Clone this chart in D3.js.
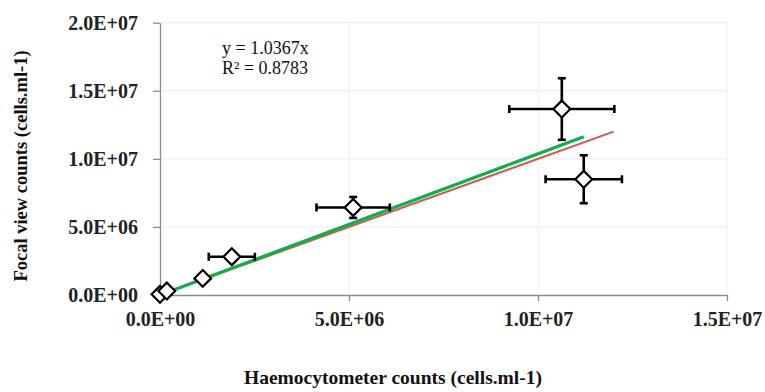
<!DOCTYPE html>
<html>
<head>
<meta charset="utf-8">
<script src="https://cdn.jsdelivr.net/npm/d3@7"></script>
<style>
  html, body { margin: 0; padding: 0; background: #fff; }
  svg { display: block; }
</style>
</head>
<body>
<svg id="chart" width="765" height="392"></svg>
<script>
// ---- data ----
const haemocytometer = [0.0e6, 0.18e6, 1.13e6, 1.90e6, 5.11e6, 10.63e6, 11.21e6];
const focalView      = [0.05e6, 0.29e6, 1.22e6, 2.81e6, 6.43e6, 13.66e6, 8.50e6];
const xError         = [0, 0, 0, 0.61e6, 0.97e6, 1.39e6, 1.01e6];
const yError         = [0, 0, 0, 0, 0.77e6, 2.26e6, 1.76e6];
const xTicks = [0, 5e6, 1e7, 1.5e7];
const yTicks = [0, 5e6, 1e7, 1.5e7, 2e7];
const xTickLabels = ["0.0E+00", "5.0E+06", "1.0E+07", "1.5E+07"];
const yTickLabels = ["0.0E+00", "5.0E+06", "1.0E+07", "1.5E+07", "2.0E+07"];
const trendSlope = 1.0367;
const rSquared = 0.8783;
const identityEnd = 12e6;
const xTitle = "Haemocytometer counts (cells.ml-1)";
const yTitle = "Focal view counts (cells.ml-1)";

// ---- layout ----
const svg = d3.select("#chart");
const mLeft = 160, mRight = 727, mTop = 22.7, mBottom = 295;
const x = d3.scaleLinear().domain([0, 1.5e7]).range([mLeft, mRight]);
const y = d3.scaleLinear().domain([0, 2e7]).range([mBottom, mTop]);
const font = "'Liberation Serif', 'Times New Roman', serif";
const axisColor = "#8c8c8c";
const gridColor = "#ebebeb";

// gridlines
svg.append("g").selectAll("line").data(yTicks.slice(1)).join("line")
  .attr("x1", mLeft).attr("x2", mRight)
  .attr("y1", d => y(d)).attr("y2", d => y(d))
  .attr("stroke", gridColor).attr("stroke-width", 1);
svg.append("g").selectAll("line").data(xTicks.slice(1)).join("line")
  .attr("x1", d => x(d)).attr("x2", d => x(d))
  .attr("y1", mTop).attr("y2", mBottom)
  .attr("stroke", gridColor).attr("stroke-width", 1);

// axes
const xAxis = d3.axisBottom(x).tickValues(xTicks)
  .tickFormat((d, i) => xTickLabels[i]).tickSize(6).tickPadding(11).tickSizeOuter(0);
const yAxis = d3.axisLeft(y).tickValues(yTicks)
  .tickFormat((d, i) => yTickLabels[i]).tickSize(7).tickPadding(15).tickSizeOuter(0);

const gx = svg.append("g").attr("transform", `translate(0,${mBottom})`).call(xAxis);
const gy = svg.append("g").attr("transform", `translate(${mLeft},0)`).call(yAxis);
[gx, gy].forEach(g => {
  g.select(".domain").attr("stroke", axisColor).attr("stroke-width", 1.3);
  g.selectAll(".tick line").attr("stroke", axisColor).attr("stroke-width", 1.3);
  g.selectAll(".tick text").attr("fill", "#222").attr("font-family", font)
    .attr("font-size", 20).attr("font-weight", "bold");
});

// reference line y = x (red) and trend line (green)
svg.append("line")
  .attr("x1", x(0)).attr("y1", y(0))
  .attr("x2", x(identityEnd)).attr("y2", y(identityEnd))
  .attr("stroke", "#cc5a55").attr("stroke-width", 2);
const xMax = d3.max(haemocytometer);
svg.append("line")
  .attr("x1", x(0)).attr("y1", y(0))
  .attr("x2", x(xMax)).attr("y2", y(trendSlope * xMax))
  .attr("stroke", "#14ad4c").attr("stroke-width", 3.2);

// error bars
const pts = haemocytometer.map((v, i) => ({ x: v, y: focalView[i], ex: xError[i], ey: yError[i] }));
const eb = svg.append("g").attr("stroke", "#000").attr("stroke-width", 2.6).attr("fill", "none");
const cap = 4;
pts.filter(p => p.ex > 0).forEach(p => {
  eb.append("line").attr("x1", x(p.x - p.ex)).attr("x2", x(p.x + p.ex))
    .attr("y1", y(p.y)).attr("y2", y(p.y));
  [p.x - p.ex, p.x + p.ex].forEach(e => eb.append("line")
    .attr("x1", x(e)).attr("x2", x(e)).attr("y1", y(p.y) - cap).attr("y2", y(p.y) + cap));
});
pts.filter(p => p.ey > 0).forEach(p => {
  eb.append("line").attr("x1", x(p.x)).attr("x2", x(p.x))
    .attr("y1", y(p.y - p.ey)).attr("y2", y(p.y + p.ey));
  [p.y - p.ey, p.y + p.ey].forEach(e => eb.append("line")
    .attr("y1", y(e)).attr("y2", y(e)).attr("x1", x(p.x) - cap).attr("x2", x(p.x) + cap));
});

// diamond markers
const r = 8.4;
svg.append("g").selectAll("path").data(pts).join("path")
  .attr("d", p => {
    const cx = x(p.x), cy = y(p.y);
    return `M${cx},${cy - r}L${cx + r},${cy}L${cx},${cy + r}L${cx - r},${cy}Z`;
  })
  .attr("fill", "#fff").attr("stroke", "#000").attr("stroke-width", 2.2);

// equation label
const eqFont = 18;
svg.append("text").attr("font-family", font).attr("font-size", eqFont).attr("fill", "#111")
  .attr("x", 222).attr("y", 54).text(`y = ${trendSlope}x`);
svg.append("text").attr("font-family", font).attr("font-size", eqFont).attr("fill", "#111")
  .attr("x", 222).attr("y", 74).text(`R² = ${rSquared}`);

// axis titles
svg.append("text").attr("font-family", font).attr("font-size", 19.5).attr("font-weight", "bold")
  .attr("fill", "#111").attr("text-anchor", "middle")
  .attr("x", 393).attr("y", 384).text(xTitle);
svg.append("text").attr("font-family", font).attr("font-size", 18.5).attr("font-weight", "bold")
  .attr("fill", "#111").attr("text-anchor", "middle")
  .attr("transform", `translate(27,166) rotate(-90)`).text(yTitle);
</script>
</body>
</html>
